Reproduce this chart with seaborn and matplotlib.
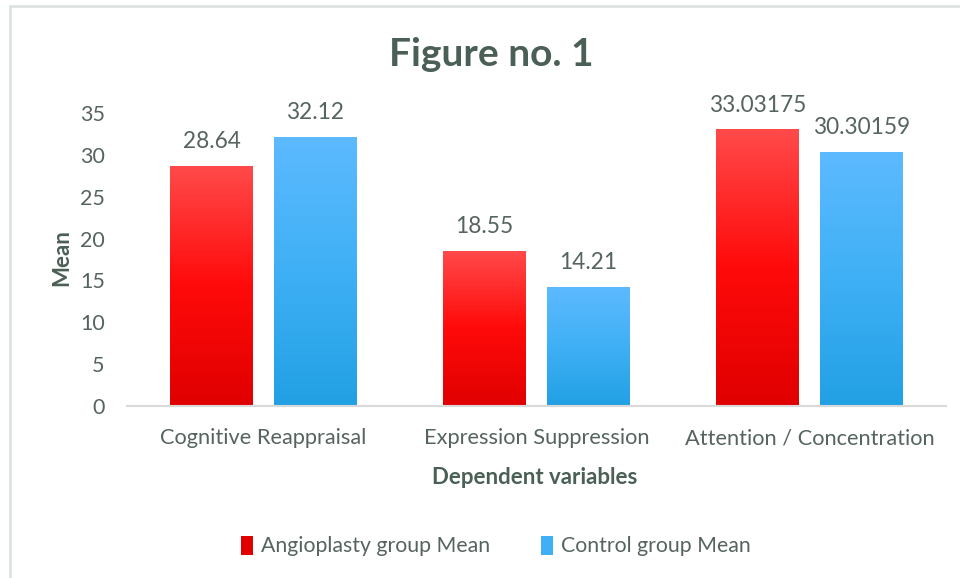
import numpy as np
import pandas as pd
import matplotlib
matplotlib.use("Agg")
import matplotlib.pyplot as plt
import seaborn as sns
from matplotlib.colors import LinearSegmentedColormap
from matplotlib.patches import Rectangle, Patch

categories = ["Cognitive Reappraisal", "Expression Suppression", "Attention / Concentration"]
series = ["Angioplasty group Mean", "Control group Mean"]
angioplasty = [28.64, 18.55, 33.03175]
control = [32.12, 14.21, 30.30159]
angio_labels = ["28.64", "18.55", "33.03175"]
control_labels = ["32.12", "14.21", "30.30159"]
yticks = [0, 5, 10, 15, 20, 25, 30, 35]

df = pd.DataFrame({
    "category": categories * 2,
    "group": [series[0]] * 3 + [series[1]] * 3,
    "value": angioplasty + control,
})

sns.set_theme(style="white")
plt.rcParams['font.family'] = ['Lato', 'DejaVu Sans']

TEXT = "#56645E"
TITLE = "#4A5F55"
RED_STOPS = ["#E00000", "#FF0A0A", "#FF4A4A"]
BLUE_STOPS = ["#22A0E4", "#3FB0F5", "#5DBAFF"]

W, H = 960, 578
fig = plt.figure(figsize=(W / 100, H / 100), dpi=100)
ax = fig.add_axes([127 / W, 1 - 406 / H, (946 - 127) / W, (406 - 113) / H])

sns.barplot(data=df, x="category", y="value", hue="group", hue_order=series,
            palette=[RED_STOPS[0], BLUE_STOPS[0]], width=0.76, gap=0.2, ax=ax,
            legend=False, errorbar=None)

grads = [RED_STOPS, BLUE_STOPS]
for ci, cont in enumerate(ax.containers):
    cmap = LinearSegmentedColormap.from_list("g%d" % ci, grads[ci])
    for p in cont.patches:
        x, y = p.get_x(), p.get_y()
        w, h = p.get_width(), p.get_height()
        grad = np.linspace(0, 1, 256).reshape(-1, 1)
        im = ax.imshow(grad, extent=(x, x + w, y, y + h), origin="lower",
                       aspect="auto", cmap=cmap, zorder=p.get_zorder() + 0.1)
        im.set_clip_path(p)
        p.set_edgecolor("none")

ax.bar_label(ax.containers[0], labels=angio_labels, padding=10, fontsize=16.3, color=TEXT)
ax.bar_label(ax.containers[1], labels=control_labels, padding=10, fontsize=16.3, color=TEXT)

ax.set_xlim(-0.5, 2.5)
ax.set_ylim(0, 35)
ax.set_yticks(yticks)
ax.set_yticklabels([str(t) for t in yticks])
ax.tick_params(axis="y", labelsize=15.5, labelcolor=TEXT, length=0, pad=16)
ax.tick_params(axis="x", labelsize=15.7, labelcolor=TEXT, length=0, pad=16)

for s in ["top", "right", "left"]:
    ax.spines[s].set_visible(False)
ax.spines["bottom"].set_color("#D9D9D9")
ax.spines["bottom"].set_linewidth(1.5)
ax.set_xlabel("")
ax.set_ylabel("")

fig.text(62 / W, 1 - 258 / H, "Mean", rotation=90, ha="center", va="center",
         fontsize=16, fontweight="bold", color=TITLE)
fig.text(535 / W, 1 - 477 / H, "Dependent variables", ha="center", va="center",
         fontsize=16, fontweight="bold", color=TITLE)
fig.text(491 / W, 1 - 55 / H, "Figure no. 1", ha="center", va="center",
         fontsize=28, fontweight="bold", color=TITLE)

handles = [Patch(facecolor=RED_STOPS[0], edgecolor="none"), Patch(facecolor=BLUE_STOPS[1], edgecolor="none")]
fig.legend(handles, series, loc="center", bbox_to_anchor=(496 / W, 1 - 546 / H),
           ncol=2, frameon=False, fontsize=15.3, labelcolor=TEXT,
           handlelength=0.55, handleheight=1.0, handletextpad=0.4, columnspacing=2.4)

border = Rectangle((10 / W, -0.05), 1.2, (H - 6) / H + 0.05, transform=fig.transFigure,
                   fill=False, edgecolor="#DDE3E0", linewidth=2)
fig.patches.append(border)

fig.savefig("out.png", dpi=100, facecolor="white")
